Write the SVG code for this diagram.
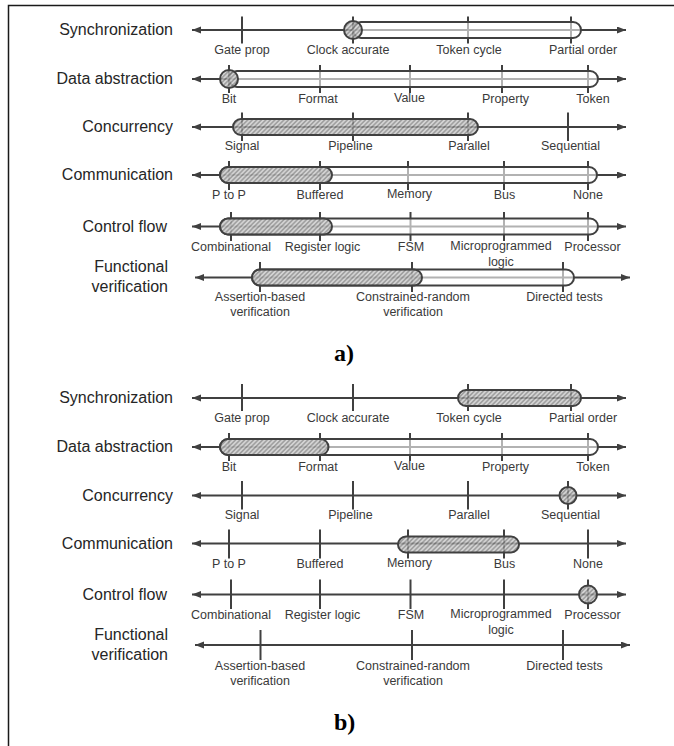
<svg xmlns="http://www.w3.org/2000/svg" width="674" height="746" viewBox="0 0 674 746">
<style>
.bg{fill:#ffffff}
.frame{fill:none;stroke:#1a1a1a;stroke-width:1.5}
.axis{stroke:#404040;stroke-width:2;fill:none;marker-start:url(#ah);marker-end:url(#ah)}
.tick{stroke:#404040;stroke-width:2}
.open{fill:#ffffff;fill-opacity:0.6;stroke:#404040;stroke-width:2}
.hat{fill:url(#hatch);fill-opacity:0.78;stroke:#404040;stroke-width:2}
.rl{font-family:"Liberation Sans",Arial,sans-serif;font-size:16px;fill:#262626;text-anchor:end}
.tl{font-family:"Liberation Sans",Arial,sans-serif;font-size:12.5px;fill:#3a3a3a;text-anchor:middle}
.pl{font-family:"Liberation Serif","Times New Roman",serif;font-size:24px;font-weight:bold;fill:#000}
</style>
<defs>
<marker id="ah" markerUnits="userSpaceOnUse" markerWidth="10" markerHeight="8" refX="9" refY="3.5" orient="auto-start-reverse">
<path d="M0,0 L9,3.5 L0,7 Z" fill="#404040"/>
</marker>
<pattern id="hatch" patternUnits="userSpaceOnUse" width="3.2" height="3.2" patternTransform="rotate(45)">
<rect width="3.2" height="3.2" fill="#c6c6c6"/>
<line x1="0.8" y1="0" x2="0.8" y2="3.2" stroke="#6a6a6a" stroke-width="1.1"/>
</pattern>
</defs>
<rect class="bg" x="0" y="0" width="674" height="746"/>
<rect class="frame" x="8.5" y="5.5" width="720" height="800"/>

<!-- ===== Panel a ===== -->
<g id="a-sync">
<text class="rl" x="173" y="35">Synchronization</text>
<line class="axis" x1="192" y1="30" x2="626" y2="30"/>
<line class="tick" x1="242" y1="16.5" x2="242" y2="43.5"/>
<line class="tick" x1="353" y1="16.5" x2="353" y2="43.5"/>
<line class="tick" x1="468" y1="16.5" x2="468" y2="43.5"/>
<line class="tick" x1="571" y1="16.5" x2="571" y2="43.5"/>
<rect class="open" x="353" y="22" width="228" height="16" rx="8"/>
<circle class="hat" cx="353" cy="30" r="9"/>
<text class="tl" x="242" y="53.5">Gate prop</text>
<text class="tl" x="348" y="53.5">Clock accurate</text>
<text class="tl" x="469" y="53.5">Token cycle</text>
<text class="tl" x="583" y="53.5">Partial order</text>
</g>

<g id="a-data">
<text class="rl" x="173" y="84">Data abstraction</text>
<line class="axis" x1="192" y1="79" x2="626" y2="79"/>
<line class="tick" x1="229" y1="65" x2="229" y2="93"/>
<line class="tick" x1="320" y1="65" x2="320" y2="93"/>
<line class="tick" x1="410" y1="65" x2="410" y2="93"/>
<line class="tick" x1="502" y1="65" x2="502" y2="93"/>
<line class="tick" x1="588" y1="65" x2="588" y2="93"/>
<rect class="open" x="229" y="71" width="369" height="16" rx="8"/>
<circle class="hat" cx="229" cy="79" r="9"/>
<text class="tl" x="229" y="103">Bit</text>
<text class="tl" x="318" y="103">Format</text>
<text class="tl" x="409.5" y="102">Value</text>
<text class="tl" x="505.5" y="103">Property</text>
<text class="tl" x="593" y="103">Token</text>
</g>

<g id="a-conc">
<text class="rl" x="173" y="132">Concurrency</text>
<line class="axis" x1="192" y1="127" x2="626" y2="127"/>
<line class="tick" x1="242" y1="112.5" x2="242" y2="141"/>
<line class="tick" x1="353" y1="112.5" x2="353" y2="141"/>
<line class="tick" x1="468" y1="112.5" x2="468" y2="141"/>
<line class="tick" x1="568" y1="112.5" x2="568" y2="141"/>
<rect class="hat" x="233" y="119" width="245" height="16" rx="8"/>
<text class="tl" x="242" y="150">Signal</text>
<text class="tl" x="350.5" y="150">Pipeline</text>
<text class="tl" x="469" y="150">Parallel</text>
<text class="tl" x="570.5" y="150">Sequential</text>
</g>

<g id="a-comm">
<text class="rl" x="173" y="180">Communication</text>
<line class="axis" x1="192" y1="175" x2="626" y2="175"/>
<line class="tick" x1="229" y1="161" x2="229" y2="190"/>
<line class="tick" x1="320" y1="161" x2="320" y2="190"/>
<line class="tick" x1="408" y1="161" x2="408" y2="190"/>
<line class="tick" x1="504" y1="161" x2="504" y2="190"/>
<line class="tick" x1="588" y1="161" x2="588" y2="190"/>
<rect class="open" x="220" y="167" width="377" height="16" rx="8"/>
<rect class="hat" x="220" y="167" width="112" height="16" rx="8"/>
<text class="tl" x="229" y="199">P to P</text>
<text class="tl" x="320" y="199">Buffered</text>
<text class="tl" x="409.5" y="198">Memory</text>
<text class="tl" x="504.5" y="199">Bus</text>
<text class="tl" x="588" y="199">None</text>
</g>

<g id="a-ctrl">
<text class="rl" x="167" y="232">Control flow</text>
<line class="axis" x1="192" y1="226.5" x2="626" y2="226.5"/>
<line class="tick" x1="231" y1="212" x2="231" y2="241"/>
<line class="tick" x1="320" y1="212" x2="320" y2="241"/>
<line class="tick" x1="410.5" y1="212" x2="410.5" y2="241"/>
<line class="tick" x1="504" y1="212" x2="504" y2="241"/>
<line class="tick" x1="588" y1="212" x2="588" y2="241"/>
<rect class="open" x="220" y="218.5" width="378" height="16" rx="8"/>
<rect class="hat" x="220" y="218.5" width="112" height="16" rx="8"/>
<text class="tl" x="231" y="251">Combinational</text>
<text class="tl" x="322.5" y="251">Register logic</text>
<text class="tl" x="411" y="251">FSM</text>
<text class="tl" x="501" y="250">Microprogrammed</text>
<text class="tl" x="501" y="265.5">logic</text>
<text class="tl" x="592.5" y="251">Processor</text>
</g>

<g id="a-func">
<text class="rl" x="168" y="271.5">Functional</text>
<text class="rl" x="168" y="292">verification</text>
<line class="axis" x1="195" y1="277.5" x2="630" y2="277.5"/>
<line class="tick" x1="260" y1="262" x2="260" y2="292"/>
<line class="tick" x1="412" y1="262" x2="412" y2="292"/>
<line class="tick" x1="563" y1="262" x2="563" y2="292"/>
<rect class="open" x="252" y="269.5" width="322" height="16" rx="8"/>
<rect class="hat" x="252" y="269.5" width="170" height="16" rx="8"/>
<text class="tl" x="260" y="300.5">Assertion-based</text>
<text class="tl" x="260" y="316">verification</text>
<text class="tl" x="413" y="300.5">Constrained-random</text>
<text class="tl" x="413" y="316">verification</text>
<text class="tl" x="564.5" y="300.5">Directed tests</text>
</g>

<text class="pl" x="334" y="361">a)</text>

<!-- ===== Panel b ===== -->
<g id="b-sync">
<text class="rl" x="173" y="403">Synchronization</text>
<line class="axis" x1="192" y1="398" x2="626" y2="398"/>
<line class="tick" x1="242" y1="384" x2="242" y2="411"/>
<line class="tick" x1="353" y1="384" x2="353" y2="411"/>
<line class="tick" x1="468" y1="384" x2="468" y2="411"/>
<line class="tick" x1="571" y1="384" x2="571" y2="411"/>
<rect class="hat" x="458" y="390" width="123" height="16" rx="8"/>
<text class="tl" x="242" y="421.5">Gate prop</text>
<text class="tl" x="348" y="421.5">Clock accurate</text>
<text class="tl" x="469" y="421.5">Token cycle</text>
<text class="tl" x="583" y="421.5">Partial order</text>
</g>

<g id="b-data">
<text class="rl" x="173" y="452">Data abstraction</text>
<line class="axis" x1="192" y1="447" x2="626" y2="447"/>
<line class="tick" x1="229" y1="433" x2="229" y2="461"/>
<line class="tick" x1="320" y1="433" x2="320" y2="461"/>
<line class="tick" x1="410" y1="433" x2="410" y2="461"/>
<line class="tick" x1="502" y1="433" x2="502" y2="461"/>
<line class="tick" x1="588" y1="433" x2="588" y2="461"/>
<rect class="open" x="220" y="439" width="378" height="16" rx="8"/>
<rect class="hat" x="220" y="439" width="108.5" height="16" rx="8"/>
<text class="tl" x="229" y="471">Bit</text>
<text class="tl" x="318" y="471">Format</text>
<text class="tl" x="409.5" y="470">Value</text>
<text class="tl" x="505.5" y="471">Property</text>
<text class="tl" x="593" y="471">Token</text>
</g>

<g id="b-conc">
<text class="rl" x="173" y="500.5">Concurrency</text>
<line class="axis" x1="192" y1="495.5" x2="626" y2="495.5"/>
<line class="tick" x1="242" y1="481" x2="242" y2="509.5"/>
<line class="tick" x1="353" y1="481" x2="353" y2="509.5"/>
<line class="tick" x1="468" y1="481" x2="468" y2="509.5"/>
<line class="tick" x1="568" y1="481" x2="568" y2="509.5"/>
<circle class="hat" cx="568" cy="495.5" r="8.5"/>
<text class="tl" x="242" y="518.5">Signal</text>
<text class="tl" x="350.5" y="518.5">Pipeline</text>
<text class="tl" x="469" y="518.5">Parallel</text>
<text class="tl" x="570.5" y="518.5">Sequential</text>
</g>

<g id="b-comm">
<text class="rl" x="173" y="548.5">Communication</text>
<line class="axis" x1="192" y1="543.5" x2="626" y2="543.5"/>
<line class="tick" x1="229" y1="529.5" x2="229" y2="558.5"/>
<line class="tick" x1="320" y1="529.5" x2="320" y2="558.5"/>
<line class="tick" x1="408" y1="529.5" x2="408" y2="558.5"/>
<line class="tick" x1="504" y1="529.5" x2="504" y2="558.5"/>
<line class="tick" x1="588" y1="529.5" x2="588" y2="558.5"/>
<rect class="hat" x="398" y="536.5" width="121" height="16" rx="8"/>
<text class="tl" x="229" y="567.5">P to P</text>
<text class="tl" x="320" y="567.5">Buffered</text>
<text class="tl" x="409.5" y="566.5">Memory</text>
<text class="tl" x="504.5" y="567.5">Bus</text>
<text class="tl" x="588" y="567.5">None</text>
</g>

<g id="b-ctrl">
<text class="rl" x="167" y="600">Control flow</text>
<line class="axis" x1="192" y1="594.5" x2="626" y2="594.5"/>
<line class="tick" x1="231" y1="579.5" x2="231" y2="609"/>
<line class="tick" x1="320" y1="579.5" x2="320" y2="609"/>
<line class="tick" x1="410.5" y1="579.5" x2="410.5" y2="609"/>
<line class="tick" x1="504" y1="579.5" x2="504" y2="609"/>
<line class="tick" x1="588" y1="579.5" x2="588" y2="609"/>
<circle class="hat" cx="588" cy="594.5" r="9"/>
<text class="tl" x="231" y="619">Combinational</text>
<text class="tl" x="322.5" y="619">Register logic</text>
<text class="tl" x="411" y="619">FSM</text>
<text class="tl" x="501" y="618">Microprogrammed</text>
<text class="tl" x="501" y="633.5">logic</text>
<text class="tl" x="592.5" y="619">Processor</text>
</g>

<g id="b-func">
<text class="rl" x="168" y="639.5">Functional</text>
<text class="rl" x="168" y="660">verification</text>
<line class="axis" x1="195" y1="645" x2="630" y2="645"/>
<line class="tick" x1="260.5" y1="630" x2="260.5" y2="660"/>
<line class="tick" x1="412" y1="630" x2="412" y2="660"/>
<line class="tick" x1="563" y1="630" x2="563" y2="660"/>
<text class="tl" x="260" y="670">Assertion-based</text>
<text class="tl" x="260" y="685">verification</text>
<text class="tl" x="413" y="670">Constrained-random</text>
<text class="tl" x="413" y="685">verification</text>
<text class="tl" x="564.5" y="670">Directed tests</text>
</g>

<text class="pl" x="334" y="730">b)</text>
</svg>
